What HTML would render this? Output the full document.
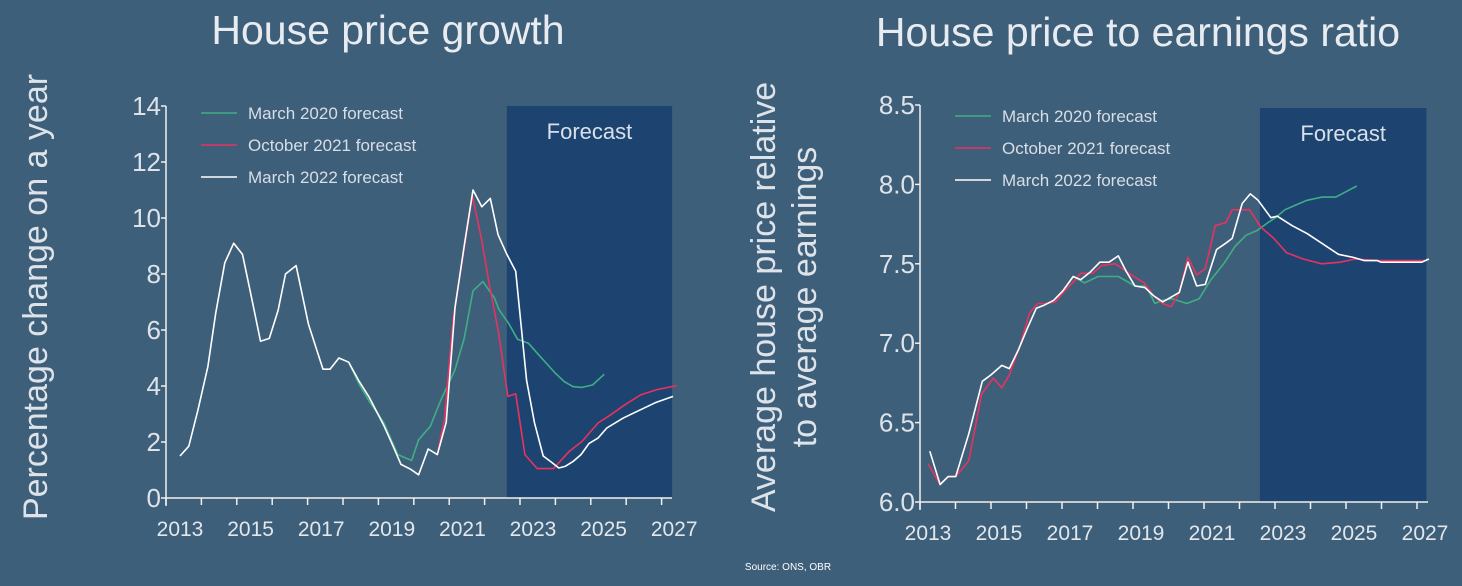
<!DOCTYPE html>
<html><head><meta charset="utf-8"><style>
html,body{margin:0;padding:0;background:#3e5f7a;}
svg{display:block;font-family:"Liberation Sans",sans-serif;}
</style></head><body>
<svg id="c" width="1462" height="586" viewBox="0 0 1462 586">
<rect x="0" y="0" width="1462" height="586" fill="#3e5f7a"/>
<text x="388" y="44" text-anchor="middle" font-size="41" fill="#e8ecf0">House price growth</text>
<text x="1138" y="46" text-anchor="middle" font-size="41" fill="#e8ecf0">House price to earnings ratio</text>
<text transform="translate(47,297) rotate(-90)" text-anchor="middle" font-size="34" fill="#dde3e9">Percentage change on a year</text>
<text transform="translate(775,297) rotate(-90)" text-anchor="middle" font-size="34" fill="#dde3e9">Average house price relative</text>
<text transform="translate(816,297) rotate(-90)" text-anchor="middle" font-size="34" fill="#dde3e9">to average earnings</text>
<text x="788" y="570" text-anchor="middle" font-size="10" fill="#ffffff">Source: ONS, OBR</text>
<g id="left"></g>
<g id="right"></g>
</svg>
<script>
// ---- Left chart data: house price growth (% change on a year) ----
const leftWhiteT=[2013.00,2013.25,2013.51,2013.79,2014.01,2014.27,2014.52,2014.77,2015.02,2015.28,2015.53,2015.78,2015.99,2016.29,2016.64,2017.05,2017.25,2017.50,2017.78,2018.06,2018.36,2018.77,2019.02,2019.26,2019.53,2019.76,2020.03,2020.29,2020.54,2020.79,2021.05,2021.30,2021.55,2021.79,2022.01,2022.26,2022.51,2022.82,2023.04,2023.29,2023.53,2023.73,2023.91,2024.13,2024.36,2024.59,2024.84,2025.09,2025.55,2025.96,2026.46,2026.97];
const leftWhiteV=[1.5,1.85,3.15,4.7,6.6,8.4,9.1,8.7,7.2,5.6,5.7,6.7,8.0,8.3,6.2,4.6,4.6,5.0,4.85,4.2,3.6,2.6,1.9,1.2,1.03,0.83,1.75,1.55,2.7,6.8,9.0,11.0,10.4,10.7,9.4,8.7,8.1,4.2,2.7,1.5,1.27,1.07,1.13,1.3,1.55,1.95,2.14,2.5,2.85,3.1,3.4,3.63];
const leftGreenT=[2017.78,2018.06,2018.36,2018.77,2019.17,2019.56,2019.76,2020.09,2020.39,2020.79,2021.05,2021.30,2021.58,2021.91,2022.03,2022.31,2022.56,2022.87,2023.12,2023.37,2023.63,2023.88,2024.13,2024.39,2024.69,2025.02];
const leftGreenV=[4.85,4.1,3.45,2.7,1.55,1.34,2.08,2.56,3.5,4.58,5.7,7.4,7.73,7.14,6.74,6.24,5.67,5.53,5.17,4.82,4.46,4.16,3.98,3.95,4.04,4.42];
const leftRedT=[2020.29,2020.49,2020.74,2021.00,2021.28,2021.55,2021.75,2022.01,2022.29,2022.51,2022.77,2023.12,2023.58,2024.03,2024.39,2024.84,2025.20,2025.60,2026.06,2026.51,2027.07];
const leftRedV=[1.55,2.8,6.4,8.5,10.8,9.2,7.7,6.0,3.63,3.72,1.55,1.05,1.05,1.67,2.02,2.68,2.97,3.33,3.69,3.87,4.01];
const leftYTicks=[0,2,4,6,8,10,12,14];
const leftYearLabels=[2013,2015,2017,2019,2021,2023,2025,2027];
const leftForecastStart=2022.26, leftForecastEnd=2026.94;

// ---- Right chart data: house price to earnings ratio ----
const rightWhiteT=[2013.05,2013.34,2013.57,2013.78,2014.15,2014.53,2014.77,2015.08,2015.29,2015.55,2015.81,2016.05,2016.28,2016.54,2016.80,2017.09,2017.30,2017.58,2017.84,2018.10,2018.36,2018.59,2018.83,2019.11,2019.35,2019.61,2019.85,2020.08,2020.32,2020.57,2020.81,2021.13,2021.39,2021.57,2021.85,2022.08,2022.30,2022.66,2022.84,2023.26,2023.68,2024.09,2024.56,2024.98,2025.29,2025.66,2025.76,2026.18,2026.91,2027.11];
const rightWhiteV=[6.32,6.11,6.16,6.16,6.43,6.76,6.80,6.86,6.84,6.96,7.10,7.22,7.24,7.27,7.33,7.42,7.40,7.45,7.51,7.51,7.55,7.45,7.36,7.35,7.30,7.26,7.29,7.32,7.51,7.36,7.37,7.59,7.63,7.66,7.88,7.94,7.90,7.79,7.80,7.74,7.69,7.63,7.56,7.54,7.52,7.52,7.51,7.51,7.51,7.53];
const rightRedT=[2013.00,2013.34,2013.57,2013.78,2014.15,2014.51,2014.84,2015.08,2015.29,2015.60,2015.86,2016.09,2016.33,2016.59,2016.85,2017.11,2017.30,2017.64,2017.90,2018.28,2018.73,2019.09,2019.35,2019.61,2019.85,2020.08,2020.32,2020.57,2020.81,2021.09,2021.39,2021.57,2022.06,2022.38,2022.74,2023.10,2023.57,2024.09,2024.61,2025.03,2025.66,2027.01];
const rightRedV=[6.24,6.11,6.16,6.16,6.26,6.68,6.78,6.72,6.80,6.99,7.19,7.25,7.25,7.26,7.33,7.39,7.44,7.44,7.49,7.50,7.43,7.38,7.30,7.25,7.23,7.32,7.54,7.43,7.47,7.74,7.76,7.84,7.84,7.73,7.66,7.57,7.53,7.50,7.51,7.53,7.52,7.52];
const rightGreenT=[2016.80,2017.09,2017.41,2017.79,2018.36,2018.83,2019.15,2019.39,2019.61,2019.88,2020.29,2020.64,2020.97,2021.33,2021.65,2021.96,2022.27,2022.58,2022.79,2023.05,2023.36,2023.68,2024.09,2024.49,2024.82,2025.08];
const rightGreenV=[7.33,7.42,7.38,7.42,7.42,7.36,7.36,7.25,7.27,7.28,7.25,7.28,7.40,7.50,7.61,7.68,7.71,7.76,7.79,7.84,7.87,7.90,7.92,7.92,7.96,7.99];
const rightYTicks=[6.0,6.5,7.0,7.5,8.0,8.5];
const rightYearLabels=[2013,2015,2017,2019,2021,2023,2025,2027];
const rightForecastStart=2022.35, rightForecastEnd=2027.04;

const NS="http://www.w3.org/2000/svg";
function mk(parent,tag,attrs){const e=document.createElementNS(NS,tag);for(const k in attrs)e.setAttribute(k,attrs[k]);parent.appendChild(e);return e;}

function drawChart(g,cfg){
  const xS=t=>cfg.x0+(t-2013)*cfg.pxYear;
  const yS=v=>cfg.yBottom-(v-cfg.yMin)/(cfg.yMax-cfg.yMin)*(cfg.yBottom-cfg.yTop);
  const fr=mk(g,'rect',{x:xS(cfg.fs),y:cfg.rectTop,width:xS(cfg.fe)-xS(cfg.fs),height:cfg.yBottom-cfg.rectTop,fill:'#1d4470'});
  
  
  const ft=mk(g,'text',{x:(xS(cfg.fs)+xS(cfg.fe))/2,y:cfg.rectTop+33,'text-anchor':'middle','font-size':22,fill:'#d8e0ea'});
  ft.textContent='Forecast';
  
  
  const ya=mk(g,'line',{x1:cfg.axisX,y1:cfg.yTop,x2:cfg.axisX,y2:cfg.yBottom+8,stroke:'#f0f0f0','stroke-width':1.5});
  
  
  const xa=mk(g,'line',{x1:cfg.axisX,y1:cfg.yBottom,x2:cfg.axisEnd,y2:cfg.yBottom,stroke:'#f0f0f0','stroke-width':1.5});
  
  
  for(let k=0;k<15;k++){
    const tx=cfg.axisX+k*cfg.tickStep;
    const tk=mk(g,'line',{x1:tx,y1:cfg.yBottom,x2:tx,y2:cfg.yBottom+7,stroke:'#f0f0f0','stroke-width':1.5});
    
    
  }
  cfg.yTicks.forEach(v=>{
    const y=yS(v);
    const tk=mk(g,'line',{x1:cfg.axisX-5,y1:y,x2:cfg.axisX,y2:y,stroke:'#f0f0f0','stroke-width':1.5});
    
    
    const lb=mk(g,'text',{x:cfg.axisX-5,y:y+9,'text-anchor':'end','font-size':26,fill:'#dde3e9'});
    lb.textContent=cfg.yFmt(v);
    
    
  });
  cfg.years.forEach(yr=>{
    const lb=mk(g,'text',{x:xS(yr),y:cfg.yBottom+38,'text-anchor':'middle','font-size':21,fill:'#e2e7ec'});
    lb.textContent=String(yr);
    
    
  });
  cfg.series.forEach(s=>{
    const d=s.t.map((t,i)=>(i?'L':'M')+xS(t).toFixed(1)+','+yS(s.v[i]).toFixed(1)).join('');
    const p=mk(g,'path',{d:d,fill:'none',stroke:s.color,'stroke-width':1.6,'stroke-linejoin':'round'});
    
    
  });
  const leg=[['March 2020 forecast','#3fae85'],['October 2021 forecast','#e8325f'],['March 2022 forecast','#ffffff']];
  leg.forEach((l,i)=>{
    const y=cfg.legY+i*32;
    const ln=mk(g,'line',{x1:cfg.legX,y1:y,x2:cfg.legX+36,y2:y,stroke:l[1],'stroke-width':1.6});
    
    
    const tx=mk(g,'text',{x:cfg.legX+47,y:y+6,'font-size':17,fill:'#d8dee5'});
    tx.textContent=l[0];
    
    
  });
}

drawChart(document.getElementById('left'),{
  x0:180,pxYear:35.3,yMin:0,yMax:14,yTop:106,yBottom:498,rectTop:106,
  axisX:166,axisEnd:672,tickStep:35.4,fs:leftForecastStart,fe:leftForecastEnd,
  yTicks:leftYTicks,yFmt:v=>String(v),years:leftYearLabels,legX:201,legY:113,
  series:[{t:leftGreenT,v:leftGreenV,color:'#3fae85',name:'march-2020-forecast-line'},
          {t:leftRedT,v:leftRedV,color:'#e8325f',name:'october-2021-forecast-line'},
          {t:leftWhiteT,v:leftWhiteV,color:'#ffffff',name:'march-2022-forecast-line'}]
});
drawChart(document.getElementById('right'),{
  x0:928,pxYear:35.5,yMin:6,yMax:8.5,yTop:105,yBottom:502,rectTop:108,
  axisX:920,axisEnd:1428,tickStep:35.5,fs:rightForecastStart,fe:rightForecastEnd,
  yTicks:rightYTicks,yFmt:v=>v.toFixed(1),years:rightYearLabels,legX:955,legY:116,
  series:[{t:rightGreenT,v:rightGreenV,color:'#3fae85',name:'march-2020-forecast-line'},
          {t:rightRedT,v:rightRedV,color:'#e8325f',name:'october-2021-forecast-line'},
          {t:rightWhiteT,v:rightWhiteV,color:'#ffffff',name:'march-2022-forecast-line'}]
});
</script>
</body></html>
